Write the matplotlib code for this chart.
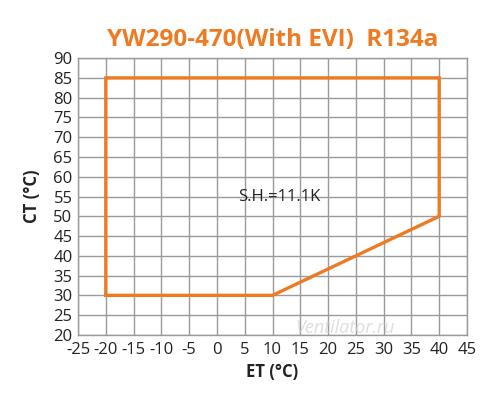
import matplotlib
matplotlib.use("Agg")
import matplotlib.pyplot as plt
import numpy as np

plt.rcParams['font.family'] = ['Open Sans', 'DejaVu Sans']
plt.rcParams['axes.unicode_minus'] = False

# Envelope data
et = [-20, -20, 40, 40, 10, -20]
ct = [30, 85, 85, 50, 30, 30]
xticks = list(range(-25, 50, 5))
yticks = list(range(20, 95, 5))
title = "YW290-470(With EVI)  R134a"
annotation = "S.H.=11.1K"
ann_pos = (11.3, 55)

orange = '#EE7A22'

fig = plt.figure(figsize=(5.0, 4.15), dpi=100)
ax = fig.add_axes([0.156, 0.193, 0.778, 0.667])
ax.set_xlim(-25, 45)
ax.set_ylim(20, 90)
ax.set_xticks(xticks)
ax.set_yticks(yticks)
ax.grid(True, color='#9a9a9a', linewidth=1.0)
ax.set_axisbelow(True)
for s in ax.spines.values():
    s.set_color('#9a9a9a')
    s.set_linewidth(1.0)
ax.tick_params(length=0, labelsize=12, colors='#222222')
ax.tick_params(axis='x', pad=5)
ax.tick_params(axis='y', pad=4)

ax.plot(et, ct, color=orange, linewidth=2.4, solid_joinstyle='miter')

ax.text(ann_pos[0], ann_pos[1], annotation, ha='center', va='center',
        fontsize=12, color='#222222')

ax.set_xlabel("ET (°C)", fontsize=12, fontweight='bold', color='#222222', labelpad=4)
ax.set_ylabel("CT (°C)", fontsize=12, fontweight='bold', color='#222222', labelpad=9)

fig.text(0.546, 0.903, title, ha='center', va='center', fontsize=17.5,
         fontweight='bold', color=orange)

ax.text(23, 21.8, "Ventilator.ru", ha='center', va='center', fontsize=13,
        style='italic', color='#d0d0d0', alpha=0.7)

fig.savefig("out.png", dpi=100)
